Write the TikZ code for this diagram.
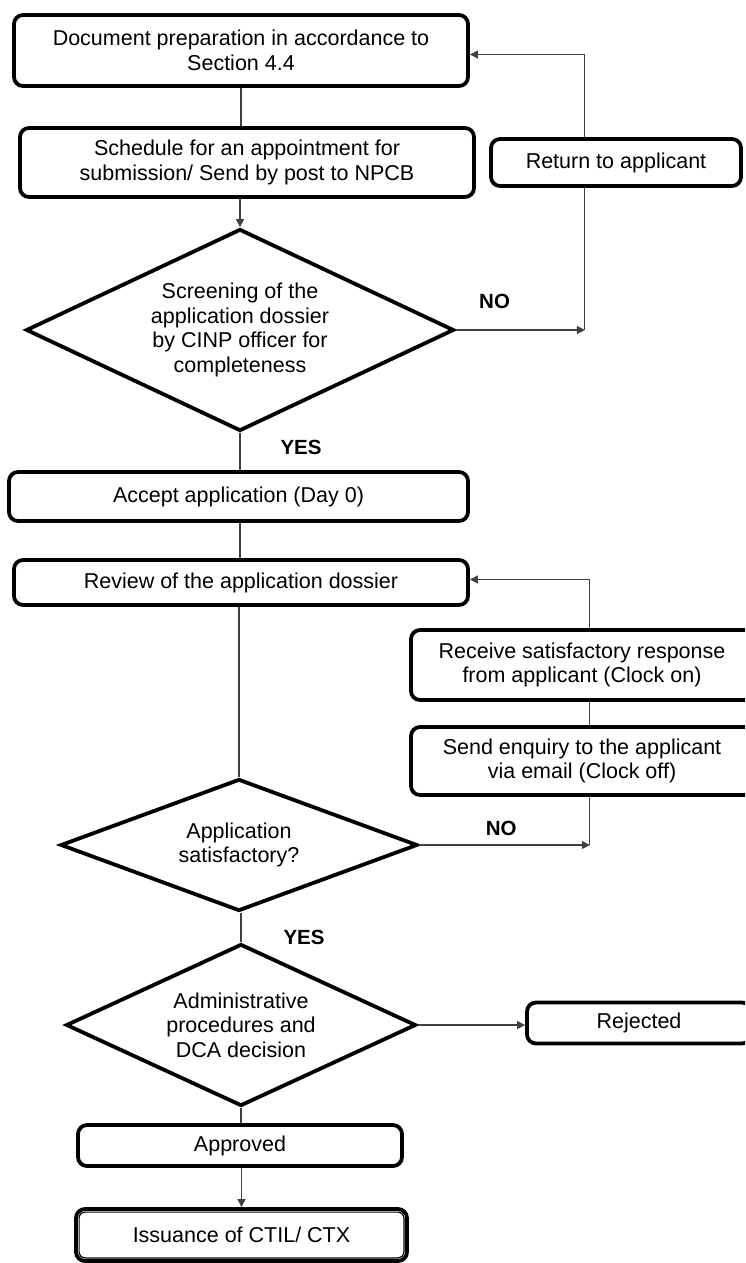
\documentclass[tikz,border=0pt]{standalone}
\usepackage{fontspec}
\setmainfont{Liberation Sans}
\usetikzlibrary{shapes,arrows.meta}
\tikzset{x=1pt,y=-1pt,node distance=100pt,
  every node/.style={font=\fontsize{21.5}{24.5}\selectfont},
  box/.style={draw,rounded corners=9pt,line width=3.8pt,align=center,inner sep=0pt},
  decide/.style={draw,diamond,line width=3.8pt,align=center,inner sep=0pt,aspect=2},
  line/.style={draw,black!75,line width=1.1pt},
  arrow/.style={line,-{Triangle[length=8pt,width=8pt]}},
  answer/.style={text=black,font=\fontsize{20.5}{24}\selectfont\bfseries,inner sep=0pt}}
\begin{document}
\begin{tikzpicture}
    \useasboundingbox (0,0) rectangle (745,1263);
    \clip (0,0) rectangle (745,1263);
    % main column
    \node[box,minimum width=454pt,minimum height=71pt] (1) at (241,50.5) {Document preparation in accordance to\\Section 4.4};
    \node[box,minimum width=454pt,minimum height=69pt] (2) [below of=1,node distance=112pt,xshift=6pt] {Schedule for an appointment for\\submission/ Send by post to NPCB};
    \node[decide,minimum width=428pt,minimum height=202pt] (3) [below of=2,node distance=167.5pt,xshift=-7pt] {Screening of the\\application dossier\\by CINP officer for\\completeness};
    \node[box,minimum width=459pt,minimum height=49pt] (4) [below of=3,node distance=166.5pt,xshift=-1.5pt] {Accept application (Day 0)};
    \node[box,minimum width=454pt,minimum height=45pt] (5) [below of=4,node distance=86pt,xshift=2.5pt] {Review of the application dossier};
    \node[decide,minimum width=357pt,minimum height=132pt] (6) [below of=5,node distance=262.5pt,xshift=-2pt] {Application\\satisfactory?};
    \node[decide,minimum width=350pt,minimum height=162pt] (7) [below of=6,node distance=180pt,xshift=2pt] {Administrative\\procedures and\\DCA decision};
    \node[box,minimum width=324pt,minimum height=41pt] (8) [below of=7,node distance=120.5pt,xshift=-1pt] {Approved};
    \node[box,minimum width=331pt,minimum height=52pt] (9) [below of=8,node distance=89.5pt,xshift=1.5pt] {Issuance of CTIL/ CTX};
    \draw[line width=1.2pt,rounded corners=6pt] ([xshift=5pt,yshift=-5pt]9.north west) rectangle ([xshift=-5pt,yshift=5pt]9.south east);
    % right column
    \node[box,minimum width=250pt,minimum height=47pt] (10) [right of=2,node distance=369pt] {Return to applicant};
    \node[box,minimum width=342pt,minimum height=70pt] (11) at (582,665) {Receive satisfactory response\\from applicant (Clock on)};
    \node[box,minimum width=342pt,minimum height=68pt] (12) [below of=11,node distance=96pt] {Send enquiry to the applicant\\via email (Clock off)};
    \node[box,minimum width=224pt,minimum height=41pt] (13) [right of=7,node distance=398pt,yshift=2pt] {Rejected};
    \coordinate (c1) at ([xshift=129pt]3.east);
    \coordinate (c2) at ([xshift=170.5pt]6.east);
    % connectors
    \path[line] (1.south) -- (1 |- 2.north);
    \path[arrow] (3 |- 2.south) -- (3.north);
    \path[line] (3.south) -- node[answer,pos=0.4,right=40pt] {YES} (3 |- 4.north);
    \path[line] (3 |- 4.south) -- (3 |- 5.north);
    \path[line] (6 |- 5.south) -- (6.north);
    \path[line] (7 |- 6.south) -- node[answer,pos=0.83,right=42pt] {YES} (7.north);
    \path[line] (7.south) -- (7 |- 8.north);
    \path[arrow] (9 |- 8.south) -- (9.north);
    \path[arrow] (3.east) -- node[answer,pos=0.3,above=21pt] {NO} (c1);
    \path[line] (c1) -- (c1 |- 10.south);
    \path[arrow] (c1 |- 10.north) |- ([yshift=-4pt]1.east);
    \path[arrow] (6.east) -- node[answer,pos=0.48,above=9pt] {NO} (c2);
    \path[line] (c2) -- (c2 |- 12.south);
    \path[line] (c2 |- 12.north) -- (c2 |- 11.south);
    \path[arrow] (c2 |- 11.north) |- ([yshift=3pt]5.east);
    \path[arrow] (7.east) -- (7.east -| 13.west);
\end{tikzpicture}
\end{document}
